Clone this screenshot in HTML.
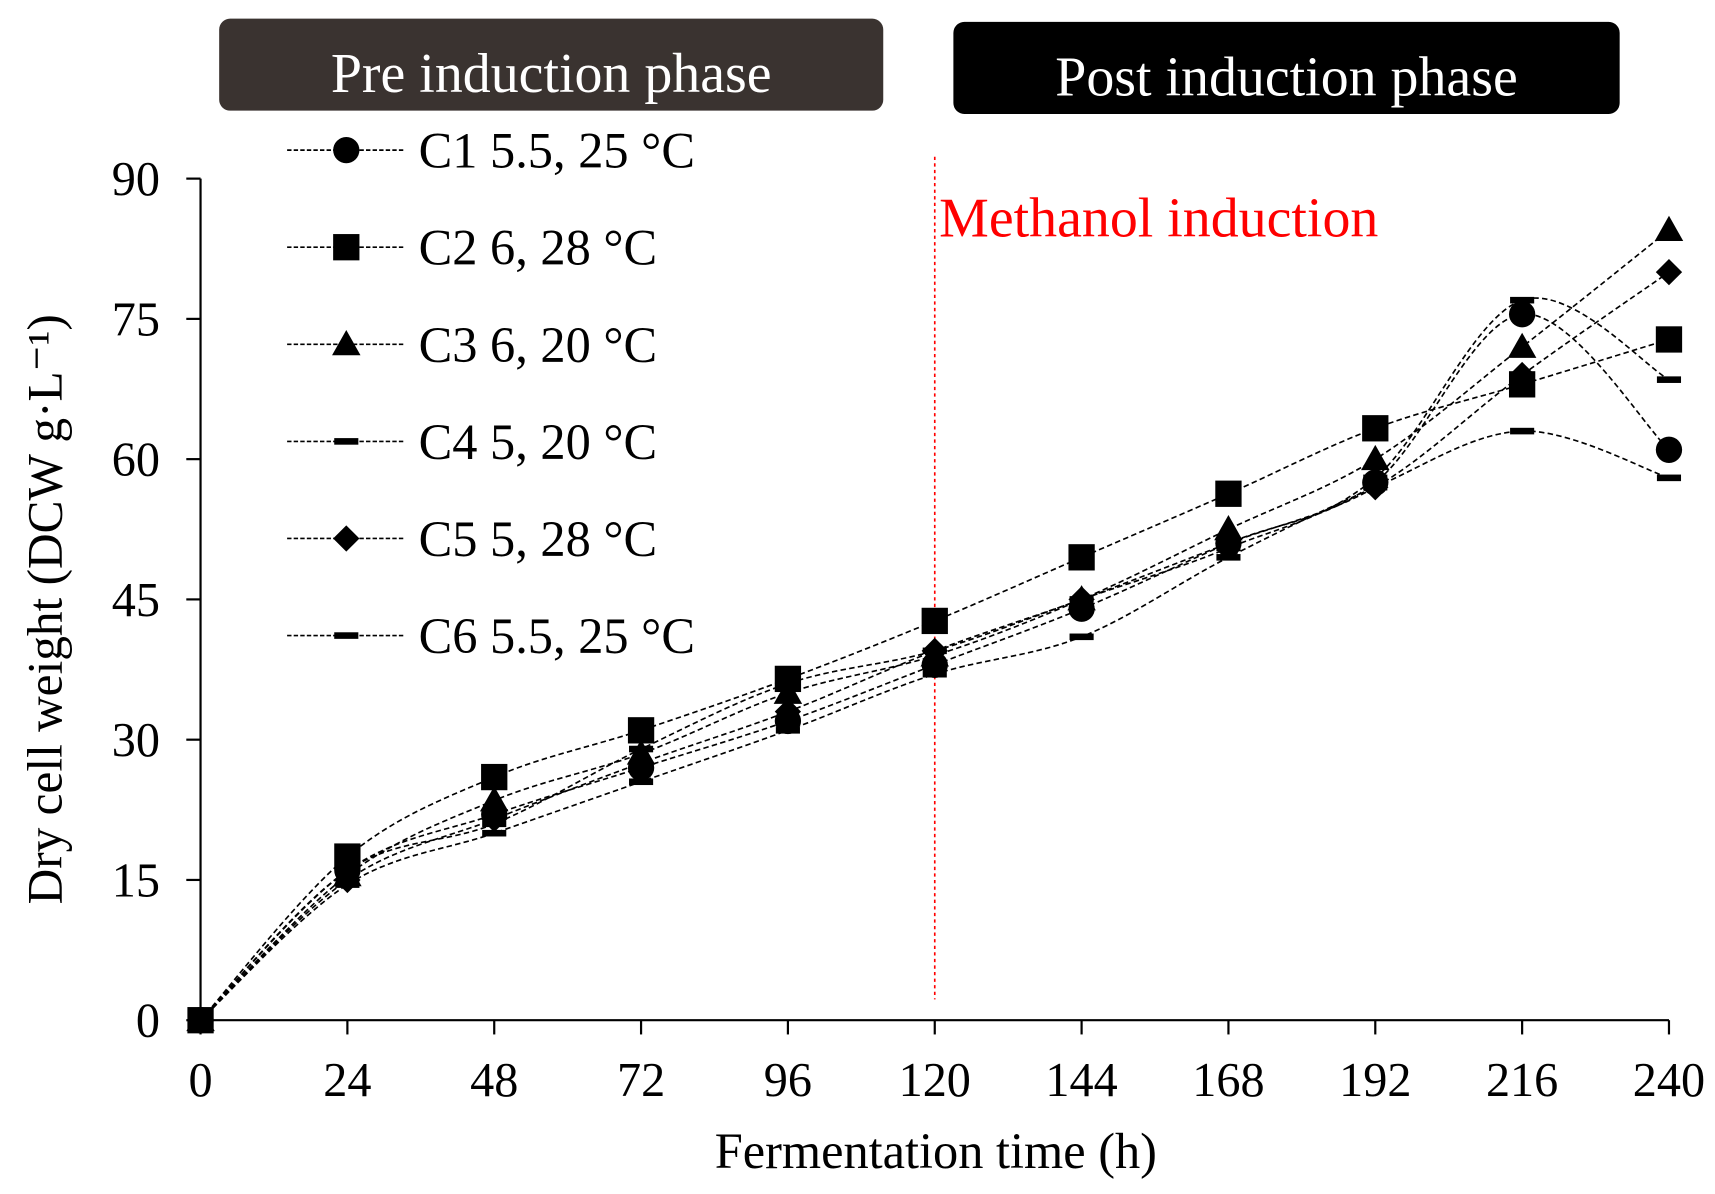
<!DOCTYPE html>
<html><head><meta charset="utf-8"><style>
html,body{margin:0;padding:0;background:#fff;}
svg{display:block;font-family:"Liberation Serif",serif;}
</style></head><body>
<svg id="chart" width="1715" height="1194" viewBox="0 0 1565 1089.6" preserveAspectRatio="none" xmlns="http://www.w3.org/2000/svg">
<rect x="200" y="17" width="606" height="84" rx="10" fill="#3a3330"/>
<text x="503" y="84" font-size="51" fill="#fff" text-anchor="middle">Pre induction phase</text>
<rect x="870" y="20" width="608" height="84" rx="10" fill="#000"/>
<text x="1174" y="87" font-size="51" fill="#fff" text-anchor="middle">Post induction phase</text>
<line x1="853" y1="143" x2="853" y2="912" stroke="#f00" stroke-width="1.5" stroke-dasharray="3,3"/>
<text x="857" y="216" font-size="51" fill="#f00">Methanol induction</text>
<g id="axes"></g>
<g id="series"></g>
<g id="legend"></g>
<text x="854" y="1066" font-size="46" text-anchor="middle">Fermentation time (h)</text>
<text transform="translate(56,556) rotate(-90)" font-size="45" text-anchor="middle">Dry cell weight (DCW g·L⁻¹)</text>
</svg>
<script>
const times=[0,24,48,72,96,120,144,168,192,216,240];
const xTicks=[0,24,48,72,96,120,144,168,192,216,240];
const yTicks=[0,15,30,45,60,75,90];
const seriesNames=["C1 5.5, 25 °C","C2 6, 28 °C","C3 6, 20  °C","C4 5, 20  °C","C5 5, 28  °C","C6 5.5, 25  °C"];
const seriesMarkers=["circle","square","triangle","dash","diamond","dash"];
const c1=[0,16,22,27,32,38,44,51,57.5,75.5,61];
const c2=[0,17.5,26,31,36.5,42.7,49.5,56.3,63.3,68,72.8];
const c3=[0,15.5,23.5,28.5,35,39,45,52.5,60,72,84.5];
const c4=[0,16,21,29,36,39.5,45,50.5,58,77,68.5];
const c5=[0,15,21.5,27.5,33,39.5,45,51,57,69,80];
const c6=[0,14.5,20,25.5,31,37,41,49.5,57,63,58];
const allSeries=[c1,c2,c3,c4,c5,c6];
const NS="http://www.w3.org/2000/svg";
const X=t=>183+(t/240)*1340, Y=v=>931-(v/90)*768;
function mk(tag,attrs,parent){const e=document.createElementNS(NS,tag);for(const k in attrs)e.setAttribute(k,attrs[k]);parent.appendChild(e);return e;}
const ax=document.getElementById('axes');
let e=mk('line',{x1:183,y1:163,x2:183,y2:931,stroke:'#000','stroke-width':2},ax);


e=mk('line',{x1:183,y1:931,x2:1523,y2:931,stroke:'#000','stroke-width':2},ax);


yTicks.forEach(v=>{mk('line',{x1:170,y1:Y(v),x2:183,y2:Y(v),stroke:'#000','stroke-width':2},ax);
 const t=mk('text',{x:146,y:Y(v)+15,'font-size':44,'text-anchor':'end'},ax);t.textContent=v;
 
 });
xTicks.forEach(v=>{mk('line',{x1:X(v),y1:931,x2:X(v),y2:944,stroke:'#000','stroke-width':2},ax);
 const t=mk('text',{x:X(v),y:1000,'font-size':44,'text-anchor':'middle'},ax);t.textContent=v;
 
 });
function marker(type,x,y,g){
 if(type==='circle')return mk('circle',{cx:x,cy:y,r:12},g);
 if(type==='square')return mk('rect',{x:x-12,y:y-12,width:24,height:24},g);
 if(type==='triangle')return mk('polygon',{points:`${x},${y-13} ${x+13},${y+10} ${x-13},${y+10}`},g);
 if(type==='diamond')return mk('polygon',{points:`${x},${y-12} ${x+12},${y} ${x},${y+12} ${x-12},${y}`},g);
 return mk('rect',{x:x-11,y:y-3,width:22,height:6},g);
}
function smooth(pts){let d=`M${pts[0][0]},${pts[0][1]}`;
 for(let i=0;i<pts.length-1;i++){const p0=pts[Math.max(0,i-1)],p1=pts[i],p2=pts[i+1],p3=pts[Math.min(pts.length-1,i+2)];
  const c1x=p1[0]+(p2[0]-p0[0])/6,c1y=p1[1]+(p2[1]-p0[1])/6,c2x=p2[0]-(p3[0]-p1[0])/6,c2y=p2[1]-(p3[1]-p1[1])/6;
  d+=` C${c1x},${c1y} ${c2x},${c2y} ${p2[0]},${p2[1]}`;}return d;}
const sg=document.getElementById('series');
allSeries.forEach((s,i)=>{
 const g=mk('g',{},sg);
 
 
 const pts=s.map((v,j)=>[X(times[j]),Y(v)]);
 mk('path',{d:smooth(pts),fill:'none',stroke:'#000','stroke-width':1.5,'stroke-dasharray':'5,3'},g);
 pts.forEach(p=>{const m=marker(seriesMarkers[i],p[0],p[1],g);
  
  });
});
const lg=document.getElementById('legend');
seriesNames.forEach((n,i)=>{
 const y=137+i*88.6;
 const g=mk('g',{},lg);
 
 
 mk('line',{x1:262,y1:y,x2:370,y2:y,stroke:'#000','stroke-width':1.5,'stroke-dasharray':'4,2'},g);
 marker(seriesMarkers[i],316,y,g);
 const t=mk('text',{x:382,y:y+16,'font-size':46},g);t.textContent=n;
});
</script>
</body></html>
